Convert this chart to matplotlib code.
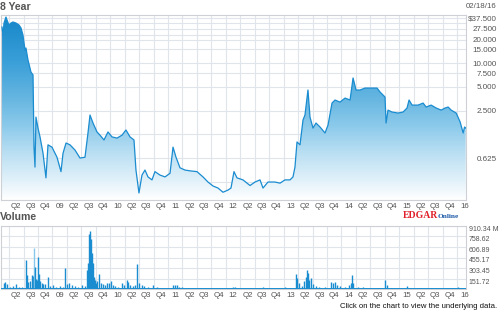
import numpy as np
import matplotlib
matplotlib.use('Agg')
import matplotlib.pyplot as plt
from matplotlib.colors import LinearSegmentedColormap
from matplotlib.patches import Polygon
from matplotlib.ticker import NullLocator

plt.rcParams['font.family'] = ['Liberation Sans', 'DejaVu Sans']

# price history, date as fractional year, price in $
priceDates = [2008.127, 2008.144, 2008.162, 2008.196, 2008.214, 2008.248, 2008.283, 2008.317, 2008.369,
              2008.421, 2008.456, 2008.490, 2008.508, 2008.525, 2008.542, 2008.577, 2008.612, 2008.629,
              2008.664, 2008.681, 2008.698, 2008.715, 2008.750, 2008.785, 2008.837, 2008.888, 2008.923,
              2008.992, 2009.079, 2009.148, 2009.183, 2009.235, 2009.304, 2009.390, 2009.477, 2009.563,
              2009.615, 2009.650, 2009.702, 2009.771, 2009.823, 2009.892, 2009.961, 2010.030, 2010.117,
              2010.203, 2010.272, 2010.342, 2010.411, 2010.445, 2010.497, 2010.549, 2010.601, 2010.653,
              2010.722, 2010.774, 2010.861, 2010.947, 2011.034, 2011.086, 2011.138, 2011.207, 2011.293,
              2011.380, 2011.501, 2011.605, 2011.691, 2011.778, 2011.864, 2011.951, 2012.037, 2012.089,
              2012.141, 2012.193, 2012.297, 2012.418, 2012.505, 2012.591, 2012.643, 2012.729, 2012.850,
              2012.937, 2013.023, 2013.110, 2013.162, 2013.196, 2013.231, 2013.283, 2013.335, 2013.369,
              2013.421, 2013.456, 2013.508, 2013.560, 2013.629, 2013.716, 2013.768, 2013.837, 2013.889,
              2013.975, 2014.062, 2014.149, 2014.201, 2014.253, 2014.322, 2014.408, 2014.495, 2014.616,
              2014.668, 2014.754, 2014.772, 2014.806, 2014.875, 2014.979, 2015.066, 2015.135, 2015.170,
              2015.222, 2015.326, 2015.413, 2015.465, 2015.552, 2015.638, 2015.725, 2015.794, 2015.846,
              2015.898, 2015.985, 2016.054, 2016.106, 2016.130, 2016.150]
prices = [28.8, 22.8, 32.4, 38.6, 35.4, 30.6, 32.4, 33.4, 32.4,
          30.6, 28.0, 22.8, 18.1, 14.7, 15.6, 11.0, 8.7, 7.7,
          7.1, 0.86, 0.48, 2.07, 1.50, 1.16, 0.72, 0.35, 0.92,
          0.86, 0.64, 0.42, 0.72, 0.97, 0.92, 0.79, 0.625, 0.64,
          1.30, 2.20, 1.74, 1.34, 1.22, 1.06, 1.34, 1.16, 1.12,
          1.22, 1.42, 1.16, 1.06, 0.44, 0.225, 0.38, 0.44, 0.36,
          0.33, 0.42, 0.38, 0.36, 0.40, 0.86, 0.64, 0.47, 0.44,
          0.43, 0.42, 0.36, 0.31, 0.276, 0.26, 0.23, 0.245, 0.26,
          0.42, 0.35, 0.33, 0.28, 0.31, 0.33, 0.26, 0.31, 0.31,
          0.30, 0.33, 0.33, 0.36, 0.48, 1.00, 0.92, 1.90, 2.20,
          4.57, 2.07, 1.50, 1.74, 1.55, 1.30, 1.64, 3.12, 3.41,
          3.21, 3.61, 3.41, 6.5, 4.57, 4.57, 4.84, 4.84, 4.84,
          4.31, 3.72, 1.74, 2.54, 2.40, 2.33, 2.40, 2.70, 3.41,
          2.94, 2.94, 3.12, 2.78, 2.94, 2.70, 2.54, 2.70, 2.78,
          2.54, 2.33, 1.79, 1.30, 1.55, 1.50]

# daily volume spikes, millions of shares
volDates = [2008.162, 2008.179, 2008.214, 2008.266, 2008.317, 2008.369, 2008.421, 2008.473, 2008.542,
            2008.560, 2008.577, 2008.612, 2008.646, 2008.664, 2008.681, 2008.698, 2008.715, 2008.733,
            2008.750, 2008.767, 2008.785, 2008.819, 2008.837, 2008.871, 2008.923, 2008.958, 2009.010,
            2009.061, 2009.131, 2009.183, 2009.217, 2009.252, 2009.287, 2009.338, 2009.390, 2009.442,
            2009.511, 2009.563, 2009.598, 2009.615, 2009.633, 2009.650, 2009.667, 2009.684, 2009.702,
            2009.719, 2009.736, 2009.754, 2009.771, 2009.806, 2009.840, 2009.875, 2009.910, 2009.944,
            2009.979, 2010.013, 2010.048, 2010.082, 2010.134, 2010.203, 2010.238, 2010.290, 2010.307,
            2010.342, 2010.394, 2010.428, 2010.463, 2010.497, 2010.549, 2010.584, 2010.653, 2010.740,
            2010.809, 2011.086, 2011.121, 2011.155, 2011.190, 2011.242, 2012.124, 2012.159, 2012.643,
            2013.023, 2013.214, 2013.231, 2013.266, 2013.318, 2013.352, 2013.387, 2013.404, 2013.421,
            2013.439, 2013.473, 2013.508, 2013.560, 2013.612, 2013.716, 2013.820, 2013.854, 2013.889,
            2013.923, 2013.975, 2014.062, 2014.131, 2014.166, 2014.183, 2014.201, 2014.287, 2014.374,
            2014.754, 2014.789, 2015.135, 2015.552, 2016.020]
volumes = [87, 101, 72, 29, 43, 72, 29, 29, 419,
           202, 101, 116, 202, 188, 592, 318, 145, 130,
           462, 217, 116, 87, 72, 72, 173, 43, 58,
           29, 43, 29, 303, 72, 87, 58, 43, 29,
           58, 43, 275, 376, 795, 838, 723, 520, 376,
           173, 130, 87, 116, 217, 87, 72, 58, 87,
           87, 116, 58, 43, 29, 87, 58, 130, 101,
           58, 43, 58, 361, 87, 58, 43, 29, 58,
           29, 58, 58, 58, 29, 29, 29, 29, 29,
           29, 217, 159, 87, 43, 116, 173, 275, 231,
           130, 159, 72, 43, 29, 29, 101, 87, 101,
           58, 43, 29, 58, 87, 202, 87, 29, 29,
           130, 58, 43, 14, 29]

quarterLabels = ['Q2', 'Q3', 'Q4', '09', 'Q2', 'Q3', 'Q4', '10', 'Q2', 'Q3', 'Q4', '11',
                 'Q2', 'Q3', 'Q4', '12', 'Q2', 'Q3', 'Q4', '13', 'Q2', 'Q3', 'Q4', '14',
                 'Q2', 'Q3', 'Q4', '15', 'Q2', 'Q3', 'Q4', '16']
priceTicks = [0.625, 2.5, 5, 7.5, 10, 15, 20, 27.5, 37.5]
priceTickLabels = ['0.625', '2.500', '5.000', '7.500', '10.000', '15.000', '20.000', '27.500', '$37.500']
volTicks = [151.72, 303.45, 455.17, 606.89, 758.62, 910.34]
volTickLabels = ['151.72', '303.45', '455.17', '606.89', '758.62', '910.34 M']

lineBlue = '#1a8cd0'
gridCol = '#e0e5eb'
frameCol = '#cdd1d6'
textGray = '#555555'

quarterStarts = np.arange(2008.25, 2016.01, 0.25)
quarterMids = quarterStarts + 0.125

fig = plt.figure(figsize=(5, 3.11), dpi=100)
axPrice = fig.add_axes([1/500, 1 - 200/311, 465/500, 185/311])
axVol = fig.add_axes([1/500, 1 - 289/311, 465/500, 63/311])

#Price chart
axPrice.set_yscale('log')

# gradient fill under the price line
gradCmap = LinearSegmentedColormap.from_list('fade', [(0, '#ffffff'), (0.1, '#e3f2fa'), (0.27, '#b5ddf2'),
                                                      (0.4, '#8ccaeb'), (0.55, '#66b6e1'),
                                                      (0.75, '#3a9fd8'), (1.0, '#1586c8')])
grad = np.linspace(0, 1, 256).reshape(-1, 1)
img = axPrice.imshow(grad, extent=[0, 1, 0, 1], transform=axPrice.transAxes, origin='lower',
                     aspect='auto', cmap=gradCmap, zorder=1)
polyPts = list(zip(priceDates, prices)) + [(priceDates[-1], 0.1), (priceDates[0], 0.1)]
fillPoly = Polygon(polyPts, closed=True, facecolor='none', edgecolor='none', transform=axPrice.transData)
axPrice.add_patch(fillPoly)
img.set_clip_path(fillPoly)
axPrice.set_xlim(2008.11, 2016.155)
axPrice.set_ylim(0.1833, 40.97)

axPrice.plot(priceDates, prices, color=lineBlue, lw=0.9, zorder=3)

for extra in [0.3125, 1.25, 22.5, 32.5]:
    axPrice.axhline(extra, color=gridCol, lw=0.8, zorder=0)

axPrice.yaxis.tick_right()
axPrice.yaxis.set_minor_locator(NullLocator())
axPrice.set_yticks(priceTicks)
axPrice.set_yticklabels(priceTickLabels, fontsize=5.8, color=textGray, ha='right')
axPrice.tick_params(axis='y', length=0, pad=22.3)

axPrice.set_xticks(quarterStarts)
axPrice.set_xticklabels([])
axPrice.set_xticks(quarterMids, minor=True)
axPrice.set_xticklabels(quarterLabels, minor=True, fontsize=5.7, color=textGray)
axPrice.tick_params(axis='x', which='both', length=0, pad=2.5)
axPrice.grid(True, which='major', color=gridCol, lw=0.8, zorder=0)
axPrice.set_axisbelow(True)
for sp in axPrice.spines.values():
    sp.set_color(frameCol)
    sp.set_linewidth(0.8)

#Volume chart
axVol.set_xlim(2008.11, 2016.155)
axVol.set_ylim(0, 910.34)
barColors = [lineBlue] * len(volumes)
barColors[volumes.index(592)] = '#86c8ec'
# thin daily bars (vlines so they do not snap away at sub-pixel width)
axVol.vlines(volDates, 0, volumes, colors=barColors, lw=1.0, zorder=3)
axVol.axhline(0, color=lineBlue, lw=1.4, zorder=4)

axVol.yaxis.tick_right()
axVol.set_yticks(volTicks)
axVol.set_yticklabels(volTickLabels, fontsize=5.0, color=textGray, va='top')
axVol.tick_params(axis='y', length=0, pad=2)
axVol.set_xticks(quarterStarts)
axVol.set_xticklabels([])
axVol.set_xticks(quarterMids, minor=True)
axVol.set_xticklabels(quarterLabels, minor=True, fontsize=5.7, color=textGray)
axVol.tick_params(axis='x', which='both', length=0, pad=2.5)
axVol.grid(True, which='major', color=gridCol, lw=0.8, zorder=0)
axVol.set_axisbelow(True)
for sp in axVol.spines.values():
    sp.set_color(frameCol)
    sp.set_linewidth(0.8)

# titles and notes
fig.text(0.0, 1 - 7/311, '8 Year', fontsize=7.6, fontweight='bold', color=textGray, va='center')
fig.text(497/500, 1 - 6/311, '02/18/16', fontsize=5.7, color=textGray, va='center', ha='right')
fig.text(0.0, 1 - 217/311, 'Volume', fontsize=7.6, fontweight='bold', color=textGray, va='center')
fig.text(497/500, 1 - 306/311, 'Click on the chart to view the underlying data.', fontsize=5.6,
         color='#111111', va='center', ha='right')
serif = ['Liberation Serif', 'DejaVu Serif']
fig.text(403/500, 1 - 215/311, 'EDGAR', fontsize=7.0, fontweight='bold', color='#e0202a', family=serif,
         va='center')
fig.text(437.5/500, 1 - 216/311, 'Online', fontsize=5.3, fontweight='bold', color='#1c5aa6',
         family=serif, va='center')

fig.savefig('out.png', dpi=100)
